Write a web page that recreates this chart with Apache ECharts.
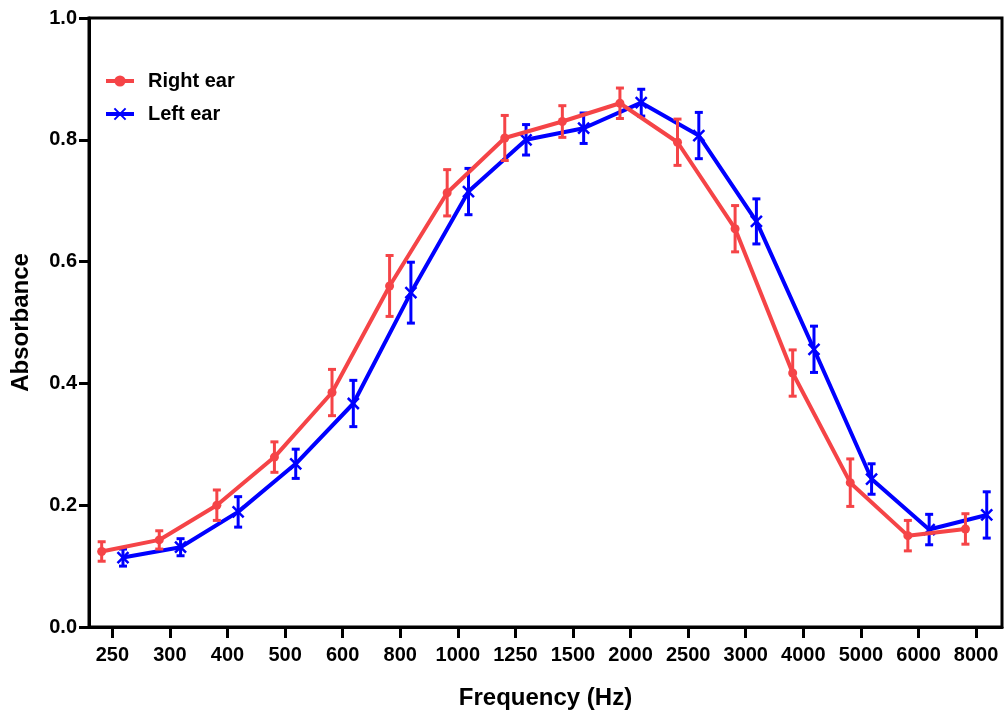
<!DOCTYPE html>
<html>
<head>
<meta charset="utf-8">
<script src="https://cdn.jsdelivr.net/npm/echarts@6/dist/echarts.min.js"></script>
<style>html,body{margin:0;padding:0;background:#fff;}#main{width:1006px;height:715px;}</style>
</head>
<body>
<div id="main"></div>
<script>
// Data
var tickLabels = ['250','300','400','500','600','800','1000','1250','1500','2000','2500','3000','4000','5000','6000','8000'];
var rightMean = [0.124,0.143,0.200,0.279,0.385,0.560,0.713,0.803,0.830,0.860,0.796,0.654,0.417,0.237,0.150,0.161];
var rightErr  = [0.016,0.015,0.025,0.025,0.038,0.050,0.038,0.037,0.026,0.025,0.038,0.038,0.038,0.039,0.025,0.025];
var leftMean  = [0.114,0.131,0.189,0.268,0.367,0.549,0.715,0.800,0.819,0.861,0.807,0.666,0.456,0.243,0.160,0.184];
var leftErr   = [0.014,0.014,0.025,0.024,0.038,0.050,0.038,0.025,0.025,0.022,0.038,0.037,0.038,0.025,0.025,0.038];

var RED = '#F54447', BLUE = '#0000FF';
var dodge = 0.185;

function pts(mean, off){ return mean.map(function(v,i){ return [i+off, v]; }); }
function errs(mean, err, off){ return mean.map(function(v,i){ return [i+off, v-err[i], v+err[i]]; }); }

function errRender(color){
  return function(params, api){
    var x = api.value(0), lo = api.value(1), hi = api.value(2);
    var pLo = api.coord([x, lo]), pHi = api.coord([x, hi]);
    var cw = 4;
    var st = {stroke: color, lineWidth: 3};
    return {type:'group', children:[
      {type:'line', shape:{x1:pLo[0],y1:pLo[1],x2:pHi[0],y2:pHi[1]}, style:st},
      {type:'line', shape:{x1:pLo[0]-cw,y1:pLo[1],x2:pLo[0]+cw,y2:pLo[1]}, style:st},
      {type:'line', shape:{x1:pHi[0]-cw,y1:pHi[1],x2:pHi[0]+cw,y2:pHi[1]}, style:st}
    ]};
  };
}

var idx = tickLabels.map(function(_,i){return i;});
var FONT = 'Liberation Sans';

var chart = echarts.init(document.getElementById('main'), null, {renderer:'canvas'});
chart.setOption({
  animation:false,
  backgroundColor:'#fff',
  textStyle:{fontFamily:FONT},
  grid:{left:89,right:4,top:18,bottom:87,show:true,borderColor:'#000',borderWidth:3,backgroundColor:'transparent'},
  legend:{
    left:99, top:66, orient:'vertical', itemWidth:28, itemHeight:14, itemGap:13,
    lineStyle:{width:4},
    textStyle:{fontFamily:FONT,fontWeight:'bold',fontSize:20,color:'#000',padding:[0,0,0,9]},
    data:['Right ear','Left ear']
  },
  xAxis:{
    type:'value', min:-0.405, max:15.45,
    name:'Frequency (Hz)', nameLocation:'middle', nameGap:59,
    nameTextStyle:{fontFamily:FONT,fontWeight:'bold',fontSize:24,color:'#000'},
    axisLine:{show:true,onZero:false,lineStyle:{color:'#000',width:3}},
    axisTick:{show:true,length:11,lineStyle:{color:'#000',width:3},customValues:idx},
    axisLabel:{customValues:idx,margin:18,fontFamily:FONT,fontWeight:'bold',fontSize:20,color:'#000',
      formatter:function(v){return tickLabels[Math.round(v)];}},
    splitLine:{show:false}
  },
  yAxis:{
    type:'value', min:0, max:1, interval:0.2,
    name:'Absorbance', nameLocation:'middle', nameGap:56,
    nameTextStyle:{fontFamily:FONT,fontWeight:'bold',fontSize:24,color:'#000'},
    axisLine:{show:true,onZero:false,lineStyle:{color:'#000',width:3}},
    axisTick:{show:true,length:10,lineStyle:{color:'#000',width:3}},
    axisLabel:{margin:12,fontFamily:FONT,fontWeight:'bold',fontSize:20,color:'#000',
      formatter:function(v){return v.toFixed(1);}},
    splitLine:{show:false}
  },
  series:[
    {type:'custom', name:'Left ear SEM', renderItem:errRender(BLUE), data:errs(leftMean,leftErr,dodge), z:2, silent:true, encode:{x:0,y:[1,2]}},
    {type:'line', name:'Left ear', data:pts(leftMean,dodge), color:BLUE,
      symbol:'path://M0,0L10,10M10,0L0,10', symbolSize:11,
      itemStyle:{color:BLUE,borderColor:BLUE,borderWidth:2.5},
      lineStyle:{color:BLUE,width:4}, z:3},
    {type:'custom', name:'Right ear SEM', renderItem:errRender(RED), data:errs(rightMean,rightErr,-dodge), z:4, silent:true, encode:{x:0,y:[1,2]}},
    {type:'line', name:'Right ear', data:pts(rightMean,-dodge), color:RED,
      symbol:'circle', symbolSize:9,
      itemStyle:{color:RED},
      lineStyle:{color:RED,width:4}, z:5}
  ]
});
</script>
</body>
</html>
